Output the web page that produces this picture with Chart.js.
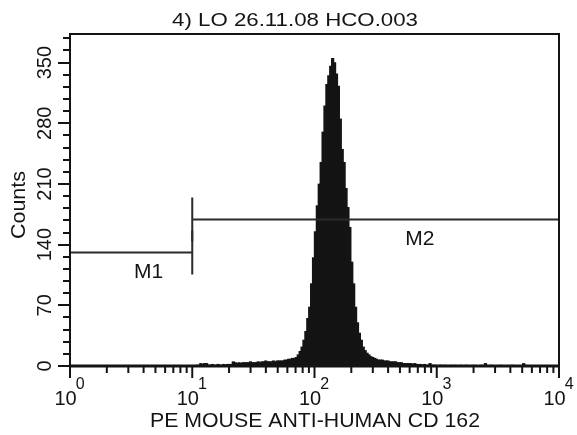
<!DOCTYPE html>
<html>
<head>
<meta charset="utf-8">
<script src="https://cdn.jsdelivr.net/npm/chart.js@4/dist/chart.umd.min.js"></script>
<style>
  html, body { margin: 0; padding: 0; background: #fff; }
  #wrap { width: 577px; height: 435px; }
</style>
</head>
<body>
<div id="wrap"><canvas id="histo" width="577" height="435"></canvas></div>
<script>
// Гистограмма проточной цитометрии: 64 канала на декаду, счёт по каналам
const chartTitle = '4) LO 26.11.08 HCO.003';
const xAxisTitle = 'PE MOUSE ANTI-HUMAN CD 162';
const yAxisTitle = 'Counts';
const channelsPerDecade = 64;
const firstChannel = 66;
const counts = [
    1, 1, 3, 2, 3, 3, 1, 1, 2, 1,          // 66-75
    1, 2, 1, 1, 2, 1, 2, 2, 2, 5,          // 76-85
    4, 3, 4, 3, 4, 4, 4, 4, 5, 4,          // 86-95
    4, 4, 5, 4, 5, 5, 6, 5, 5, 5,          // 96-105
    6, 5, 6, 6, 6, 6, 7, 7, 8, 8,          // 106-115
    9, 9, 10, 13, 17, 22, 30, 40, 55, 68,  // 116-125
    95, 125, 155, 185, 210, 235, 270, 300, 325, 335, // 126-135
    346, 355, 350, 337, 323, 285, 250, 235, 205, 183, // 136-145
    160, 120, 95, 68, 50, 38, 30, 22, 18, 15,         // 146-155
    13, 11, 10, 9, 8, 7, 7, 7, 6, 6,       // 156-165
    6, 5, 5, 5, 5, 4, 4, 4, 3, 3,          // 166-175
    3, 3, 3, 2, 3, 2, 2, 2, 1, 2,          // 176-185
    1, 1, 3, 1, 1, 1, 0, 1, 1, 0,          // 186-195
    1, 0, 0, 1, 0, 1, 0, 0, 1, 0,          // 196-205
    0, 1, 0, 0, 0, 1, 0, 0, 0, 1,          // 206-215
    0, 3, 0, 0, 1, 0, 0, 0, 0, 1,          // 216-225
    0, 0, 0, 0, 0, 1, 0, 0, 0, 0,          // 226-235
    0, 3, 1, 0                             // 236-239
];

// Оси
const xMin = 1, xMax = 10000;
const xTickExponents = [0, 1, 2, 3, 4];
const yMax = 383;
const yTickValues = [0, 70, 140, 210, 280, 350];
const yMinorStep = 14;

// Маркеры M1 / M2
const markerNames = ['M1', 'M2'];
const markerFrom = [1, 10];
const markerTo = [10, 10000];
const markerLevel = [131, 169];
const markerLabelAt = [4.4, 728];

const FONT = '"Liberation Sans", Arial, sans-serif';
const INK = '#141414';

// столбик на канал, в центре канала
const points = counts.map((c, i) => ({ x: Math.pow(10, (firstChannel + i + 0.5) / channelsPerDecade), y: c }));

// текст, растянутый по ширине (как в исходной картинке)
function fitText(ctx, text, cx, cy, width, angle) {
    const w = ctx.measureText(text).width;
    ctx.save();
    ctx.translate(cx, cy);
    if (angle) ctx.rotate(angle);
    ctx.scale(width / w, 1);
    ctx.textAlign = 'center';
    ctx.fillText(text, 0, 0);
    ctx.restore();
}

const decorPlugin = {
    id: 'decor',
    afterDatasetsDraw(chart) {
        const { ctx, chartArea: a, scales: { x, y } } = chart;
        ctx.save();

        // маркеры
        ctx.strokeStyle = '#2a2a2a';
        ctx.lineWidth = 2;
        ctx.fillStyle = INK;
        ctx.font = '21px ' + FONT;
        ctx.textAlign = 'center';
        ctx.textBaseline = 'middle';
        for (let i = 0; i < markerNames.length; i++) {
            const x1 = x.getPixelForValue(markerFrom[i]);
            const x2 = x.getPixelForValue(markerTo[i]);
            const py = y.getPixelForValue(markerLevel[i]);
            ctx.beginPath();
            ctx.moveTo(x1, py); ctx.lineTo(x2, py);
            ctx.moveTo(x1, py - 22); ctx.lineTo(x1, py + 22);
            ctx.moveTo(x2, py - 22); ctx.lineTo(x2, py + 22);
            ctx.stroke();
            ctx.fillText(markerNames[i], x.getPixelForValue(markerLabelAt[i]), py + 20);
        }

        // рамка
        ctx.strokeStyle = INK;
        ctx.lineWidth = 2;
        ctx.strokeRect(a.left, a.top, a.right - a.left, a.bottom - a.top);
        ctx.lineWidth = 3;
        ctx.beginPath();
        ctx.moveTo(a.left - 1, a.bottom); ctx.lineTo(a.right + 1, a.bottom);
        ctx.stroke();

        // деления оси Y
        ctx.lineWidth = 2;
        ctx.beginPath();
        for (let v = 0; v <= yMax; v += yMinorStep) {
            const py = Math.round(y.getPixelForValue(v));
            const len = yTickValues.includes(v) ? 12 : 7;
            ctx.moveTo(a.left, py); ctx.lineTo(a.left - len, py);
        }
        ctx.stroke();

        ctx.font = '20px ' + FONT;
        yTickValues.forEach(v => {
            ctx.save();
            ctx.translate(45, y.getPixelForValue(v));
            ctx.rotate(-Math.PI / 2);
            ctx.textAlign = 'center';
            ctx.textBaseline = 'middle';
            ctx.fillText(String(v), 0, 0);
            ctx.restore();
        });

        // деления оси X (логарифмическая)
        ctx.beginPath();
        xTickExponents.forEach(e => {
            const base = Math.pow(10, e);
            const px = x.getPixelForValue(base);
            ctx.moveTo(px, a.bottom); ctx.lineTo(px, a.bottom + 12);
            if (e < xTickExponents[xTickExponents.length - 1]) {
                for (let m = 2; m <= 9; m++) {
                    const mx = x.getPixelForValue(m * base);
                    ctx.moveTo(mx, a.bottom); ctx.lineTo(mx, a.bottom + 7);
                }
            }
        });
        ctx.stroke();

        ctx.textAlign = 'left';
        ctx.textBaseline = 'alphabetic';
        xTickExponents.forEach(e => {
            const px = x.getPixelForValue(Math.pow(10, e));
            ctx.font = '20px ' + FONT;
            const w1 = ctx.measureText('10').width;
            ctx.font = '16px ' + FONT;
            const w2 = ctx.measureText(String(e)).width;
            const left = px - (w1 + w2) / 2;
            ctx.font = '20px ' + FONT;
            ctx.fillText('10', left, 405);
            ctx.font = '16px ' + FONT;
            ctx.fillText(String(e), left + w1 - 1, 389);
        });

        // подписи
        ctx.textBaseline = 'alphabetic';
        ctx.font = '19px ' + FONT;
        fitText(ctx, chartTitle, 295, 26, 246, 0);
        ctx.font = '21px ' + FONT;
        fitText(ctx, xAxisTitle, 315, 427, 330, 0);
        fitText(ctx, yAxisTitle, 25, 205, 68, -Math.PI / 2);

        ctx.restore();
    }
};

const ctx = document.getElementById('histo').getContext('2d');
const histoChart = new Chart(ctx, {
    type: 'bar',
    data: {
        datasets: [{
            data: points,
            backgroundColor: INK,
            borderWidth: 0,
            barThickness: 2.6,
            grouped: false
        }]
    },
    options: {
        responsive: false,
        animation: false,
        layout: { padding: { left: 70, right: 18, top: 34, bottom: 69 } },
        plugins: { legend: { display: false }, tooltip: { enabled: false } },
        scales: {
            x: { type: 'logarithmic', min: xMin, max: xMax, display: false },
            y: { type: 'linear', min: 0, max: yMax, display: false }
        }
    },
    plugins: [decorPlugin]
});
</script>
</body>
</html>
